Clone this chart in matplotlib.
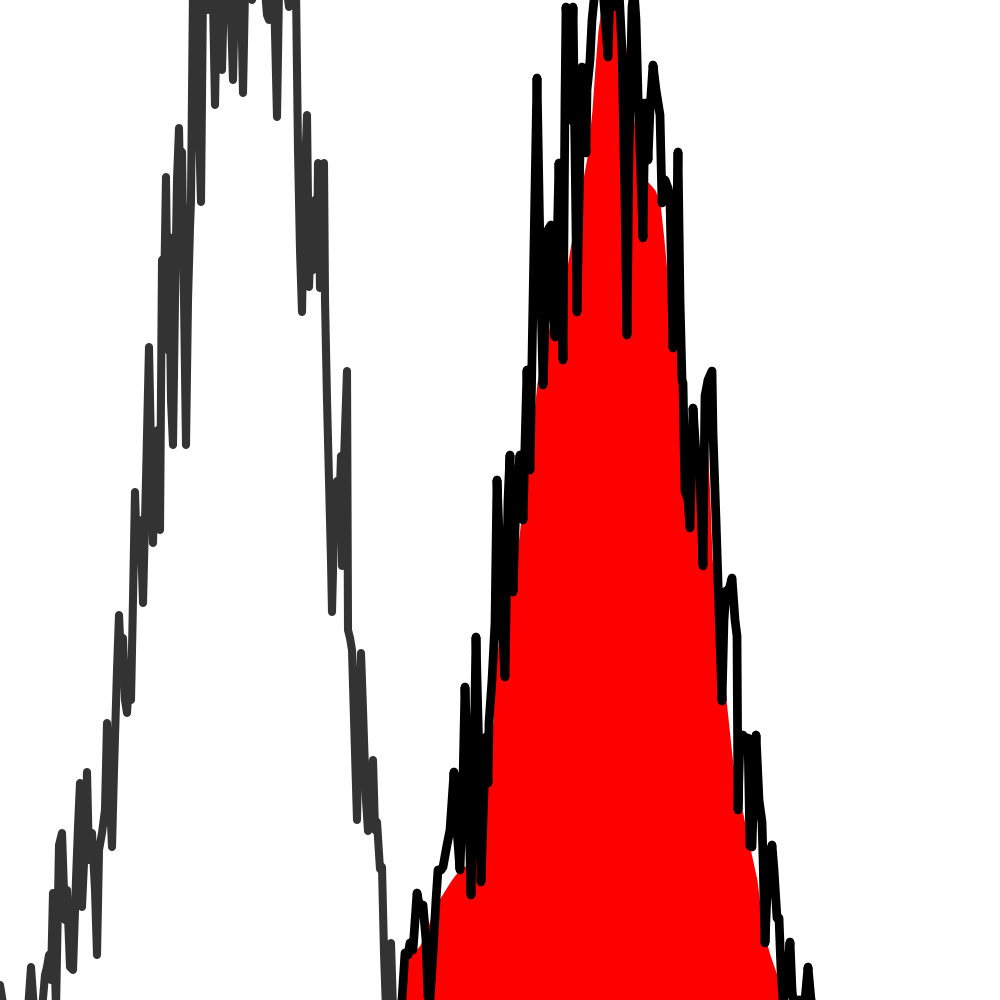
import matplotlib
matplotlib.use("Agg")
import matplotlib.pyplot as plt
import numpy as np

# control sample (grey outline)
ctrl_x = [0, 4, 28, 31, 34, 42, 45, 47, 49, 51, 53, 56, 59, 62, 65, 67, 70, 73, 76, 78,
          80, 82, 85, 87, 89, 92, 95, 97, 99, 102, 105, 107, 110, 112, 114, 117, 119, 121, 123, 125,
          127, 129, 131, 133, 135, 137, 139, 141, 143, 146, 149, 151, 153, 156, 158, 160, 162, 164, 166, 168,
          169, 171, 173, 175, 177, 179, 181, 182, 184, 186, 188, 190, 191, 193, 195, 197, 199, 201, 203, 206,
          208, 211, 213, 215, 217, 219, 222, 224, 228, 231, 233, 235, 238, 241, 243, 245, 249, 252, 255, 265,
          267, 269, 271, 274, 277, 279, 287, 289, 291, 296, 298, 300, 302, 304, 307, 309, 311, 313, 315, 317,
          318, 320, 322, 324, 325, 327, 329, 331, 332, 334, 336, 337, 339, 341, 342, 344, 347, 348, 350, 352,
          357, 359, 361, 363, 366, 368, 370, 373, 375, 377, 380, 382, 384, 386, 389, 391, 393, 400]
ctrl_y = [15, -10, -10, 33, -10, -10, 25, 33, 45, 20, 107, -10, 155, 167, 80, 110, 33, 30, 120, 173,
          217, 93, 160, 228, 140, 167, 110, 45, 150, 167, 190, 277, 200, 153, 230, 330, 385, 340, 362, 300,
          287, 320, 300, 400, 508, 440, 480, 460, 397, 520, 653, 550, 457, 568, 570, 470, 740, 700, 823, 650,
          763, 600, 555, 700, 820, 872, 760, 848, 700, 555, 700, 773, 800, 1010, 950, 1010, 870, 798, 1010, 1010,
          990, 1010, 1000, 895, 1010, 1010, 930, 1010, 1010, 985, 920, 1010, 1000, 1010, 907, 1010, 1010, 1000, 1010, 1010,
          985, 980, 1010, 1010, 883, 1010, 1010, 993, 1010, 1010, 850, 750, 688, 800, 885, 713, 770, 730, 800, 735,
          837, 712, 780, 837, 700, 600, 520, 440, 388, 470, 510, 519, 480, 544, 434, 540, 629, 370, 362, 350,
          180, 280, 347, 290, 200, 169, 210, 240, 170, 178, 131, 133, 47, -10, -10, 57, -10, -10]

# stained sample (black outline)
stain_x = [398, 402, 405, 408, 410, 413, 417, 420, 423, 426, 428, 430, 433, 436, 438, 441, 443, 447, 450, 454,
           457, 460, 463, 465, 468, 471, 474, 476, 479, 481, 484, 486, 488, 489, 492, 495, 497, 500, 503, 505,
           508, 510, 513, 516, 520, 523, 527, 530, 533, 537, 540, 543, 546, 548, 551, 553, 555, 557, 559, 561,
           563, 565, 566, 568, 570, 573, 575, 577, 580, 582, 584, 586, 587, 590, 592, 595, 603, 606, 608, 610,
           615, 617, 619, 622, 625, 627, 629, 632, 634, 636, 638, 640, 643, 645, 648, 650, 653, 656, 660, 662,
           665, 668, 670, 673, 676, 678, 680, 682, 683, 685, 688, 690, 693, 697, 700, 703, 705, 708, 712, 713,
           716, 718, 722, 724, 726, 729, 732, 735, 737, 738, 740, 743, 746, 748, 750, 752, 754, 756, 759, 762,
           763, 765, 768, 772, 774, 777, 779, 781, 783, 786, 790, 792, 793, 805, 808, 811, 815]
stain_y = [-10, 0, 47, 45, 57, 50, 107, 90, 95, 60, 3, 0, 47, 100, 130, 130, 133, 155, 170, 228,
           170, 130, 220, 313, 220, 105, 240, 363, 240, 118, 210, 263, 217, 277, 320, 377, 520, 440, 360, 323,
           500, 545, 408, 500, 545, 480, 630, 530, 700, 922, 750, 615, 700, 770, 775, 700, 663, 750, 837, 750,
           640, 900, 993, 960, 880, 993, 850, 688, 850, 933, 880, 847, 910, 940, 980, 1010, 1010, 970, 943, 1010,
           1010, 993, 1010, 950, 800, 665, 850, 993, 1010, 980, 905, 850, 762, 897, 840, 890, 935, 910, 885, 797,
           820, 812, 800, 652, 750, 848, 700, 620, 617, 509, 500, 472, 592, 530, 526, 434, 604, 620, 629, 567,
           480, 418, 299, 380, 409, 410, 422, 380, 364, 190, 264, 265, 260, 262, 154, 153, 220, 265, 200, 178,
           143, 57, 130, 155, 130, 82, 82, 30, 0, 10, 58, 10, 0, 0, 33, 0, -10]

# smoothed stained profile used for the red fill
fill_x = [400, 403, 406, 410, 416, 420, 425, 430, 435, 440, 445, 450, 455, 460, 470, 478, 483, 487, 490, 493,
          496, 500, 507, 513, 518, 522, 527, 532, 537, 542, 548, 555, 562, 567, 575, 580, 587, 592, 595, 598,
          601, 610, 618, 622, 626, 630, 635, 640, 648, 655, 660, 664, 667, 672, 677, 680, 683, 687, 695, 702,
          707, 710, 712, 716, 720, 725, 733, 740, 750, 757, 763, 770, 778, 782]
fill_y = [0, 15, 35, 45, 50, 55, 65, 80, 95, 102, 110, 118, 125, 130, 138, 150, 180, 215, 240, 280,
          340, 370, 400, 430, 455, 490, 520, 570, 617, 640, 667, 700, 720, 733, 780, 805, 843, 890, 933, 970,
          990, 995, 992, 980, 950, 917, 870, 820, 818, 810, 797, 760, 727, 690, 650, 610, 570, 520, 530, 545,
          560, 500, 443, 400, 360, 310, 235, 200, 152, 120, 70, 45, 22, 0]

fig = plt.figure(figsize=(10, 10), dpi=100)
ax = fig.add_axes([0, 0, 1, 1])

ax.plot(ctrl_x, ctrl_y, color="#333333", linewidth=5.8,
        solid_joinstyle="round", solid_capstyle="round", zorder=1)
ax.fill_between(fill_x, fill_y, 0, color="#ff0000", linewidth=0, zorder=2)
ax.plot(stain_x, stain_y, color="black", linewidth=6.3,
        solid_joinstyle="round", solid_capstyle="round", zorder=3)

ax.set_xlim(0, 1000)
ax.set_ylim(0, 1000)
ax.axis("off")

fig.savefig("out.png", dpi=100, facecolor="white")
